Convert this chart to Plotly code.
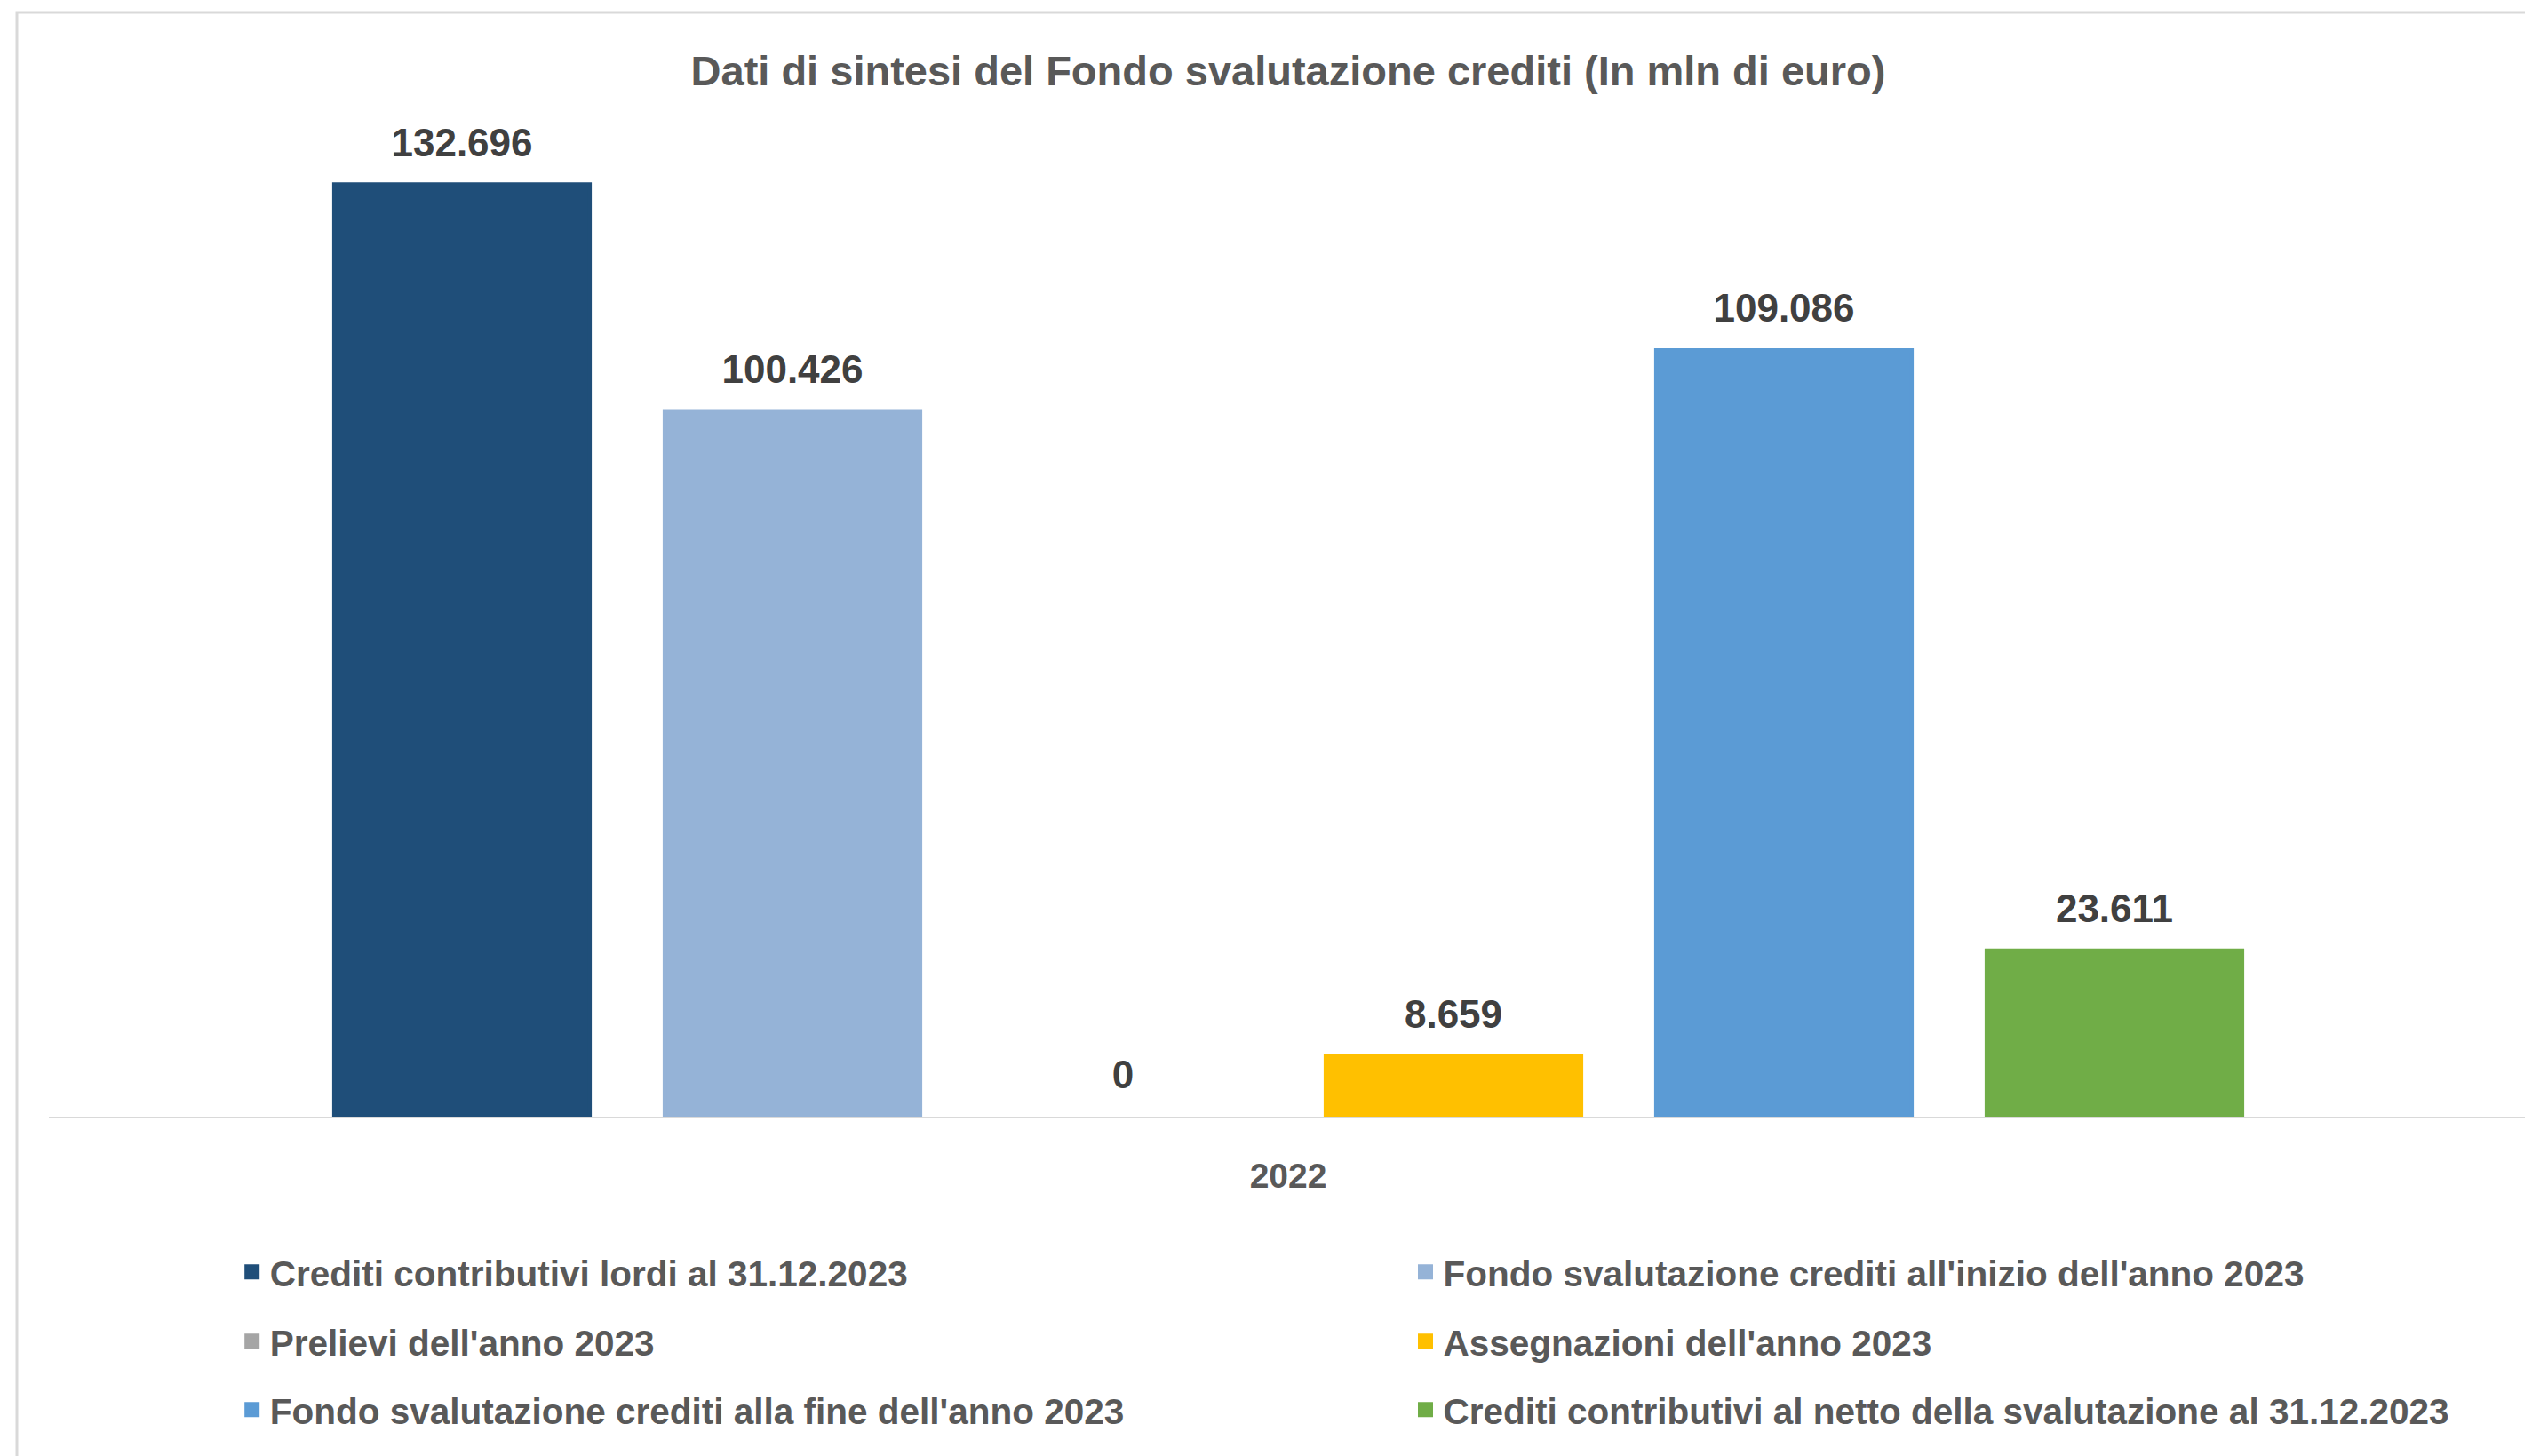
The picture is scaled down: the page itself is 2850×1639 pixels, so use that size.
import plotly.graph_objects as go

# Dati di sintesi del Fondo svalutazione crediti
categories = ["2022"]
series_names = [
    "Crediti contributivi lordi al 31.12.2023",
    "Fondo svalutazione crediti all'inizio dell'anno 2023",
    "Prelievi dell'anno 2023",
    "Assegnazioni dell'anno 2023",
    "Fondo svalutazione crediti alla fine dell'anno 2023",
    "Crediti contributivi al netto della svalutazione al 31.12.2023",
]
series_values = [132696, 100426, 0, 8659, 109086, 23611]
colors = ["#1F4E79", "#95B3D7", "#A5A5A5", "#FFC000", "#5B9BD5", "#70AD47"]

FONT = "Arial, 'Liberation Sans', sans-serif"

# page body has an 8px margin, so the figure is a bit smaller than the window
W, H = 2842, 1631

# one legend per entry so the two columns line up like the original
legend_pos = [(0.0748, -0.158), (0.5482, -0.158),
              (0.0748, -0.2285), (0.5482, -0.2285),
              (0.0748, -0.298), (0.5482, -0.298)]

fig = go.Figure()
for i, (name, val, col) in enumerate(zip(series_names, series_values, colors)):
    leg = "legend" if i == 0 else "legend%d" % (i + 1)
    fig.add_trace(go.Bar(
        x=categories, y=[val if val else None], name=name,
        marker=dict(color=col, line=dict(color=col, width=5)),
        offsetgroup=str(i), legend=leg,
        hoverinfo="name+y",
    ))
    # value label, grouped like the bars
    fig.add_trace(go.Scatter(
        x=categories, y=[val], mode="markers+text",
        marker=dict(size=32, opacity=0, color=col),
        texttemplate="%{y:,}", textposition="top center",
        textfont=dict(family=FONT, size=44, color="#404040", weight="bold"),
        offsetgroup=str(i), showlegend=False, hoverinfo="skip",
        cliponaxis=False,
    ))

layout_legends = {}
for i, (lx, ly) in enumerate(legend_pos):
    key = "legend" if i == 0 else "legend%d" % (i + 1)
    layout_legends[key] = dict(
        x=lx, y=ly, xanchor="left", yanchor="middle",
        orientation="h", bgcolor="rgba(0,0,0,0)",
        font=dict(family=FONT, size=40.5, color="#595959", weight="bold"),
    )

fig.update_layout(
    width=W, height=H,
    margin=dict(l=47, r=5, t=142, b=382),
    paper_bgcolor="white", plot_bgcolor="white",
    separators=",.",
    barmode="group", bargap=0.2, bargroupgap=0.228,
    scattermode="group", scattergap=0.2,
    title=dict(
        text="Dati di sintesi del Fondo svalutazione crediti (In mln di euro)",
        x=0.5, xref="paper", xanchor="center",
        y=1 - 72 / H, yanchor="middle",
        font=dict(family=FONT, size=47, color="#595959", weight="bold"),
    ),
    xaxis=dict(
        type="category", showline=True, linecolor="#D9D9D9", linewidth=2,
        showgrid=False, ticks="", ticklabelstandoff=31,
        tickfont=dict(family=FONT, size=39, color="#595959", weight="bold"),
    ),
    yaxis=dict(range=[0, 140000], showgrid=False, showticklabels=False,
               zeroline=False, showline=False),
    shapes=[dict(type="rect", xref="paper", yref="paper",
                 x0=-0.0129, x1=1.1, y0=-0.5, y1=1.1229,
                 line=dict(color="#D9D9D9", width=3), layer="below")],
    showlegend=True,
    **layout_legends,
)

fig.write_html("out.html")
